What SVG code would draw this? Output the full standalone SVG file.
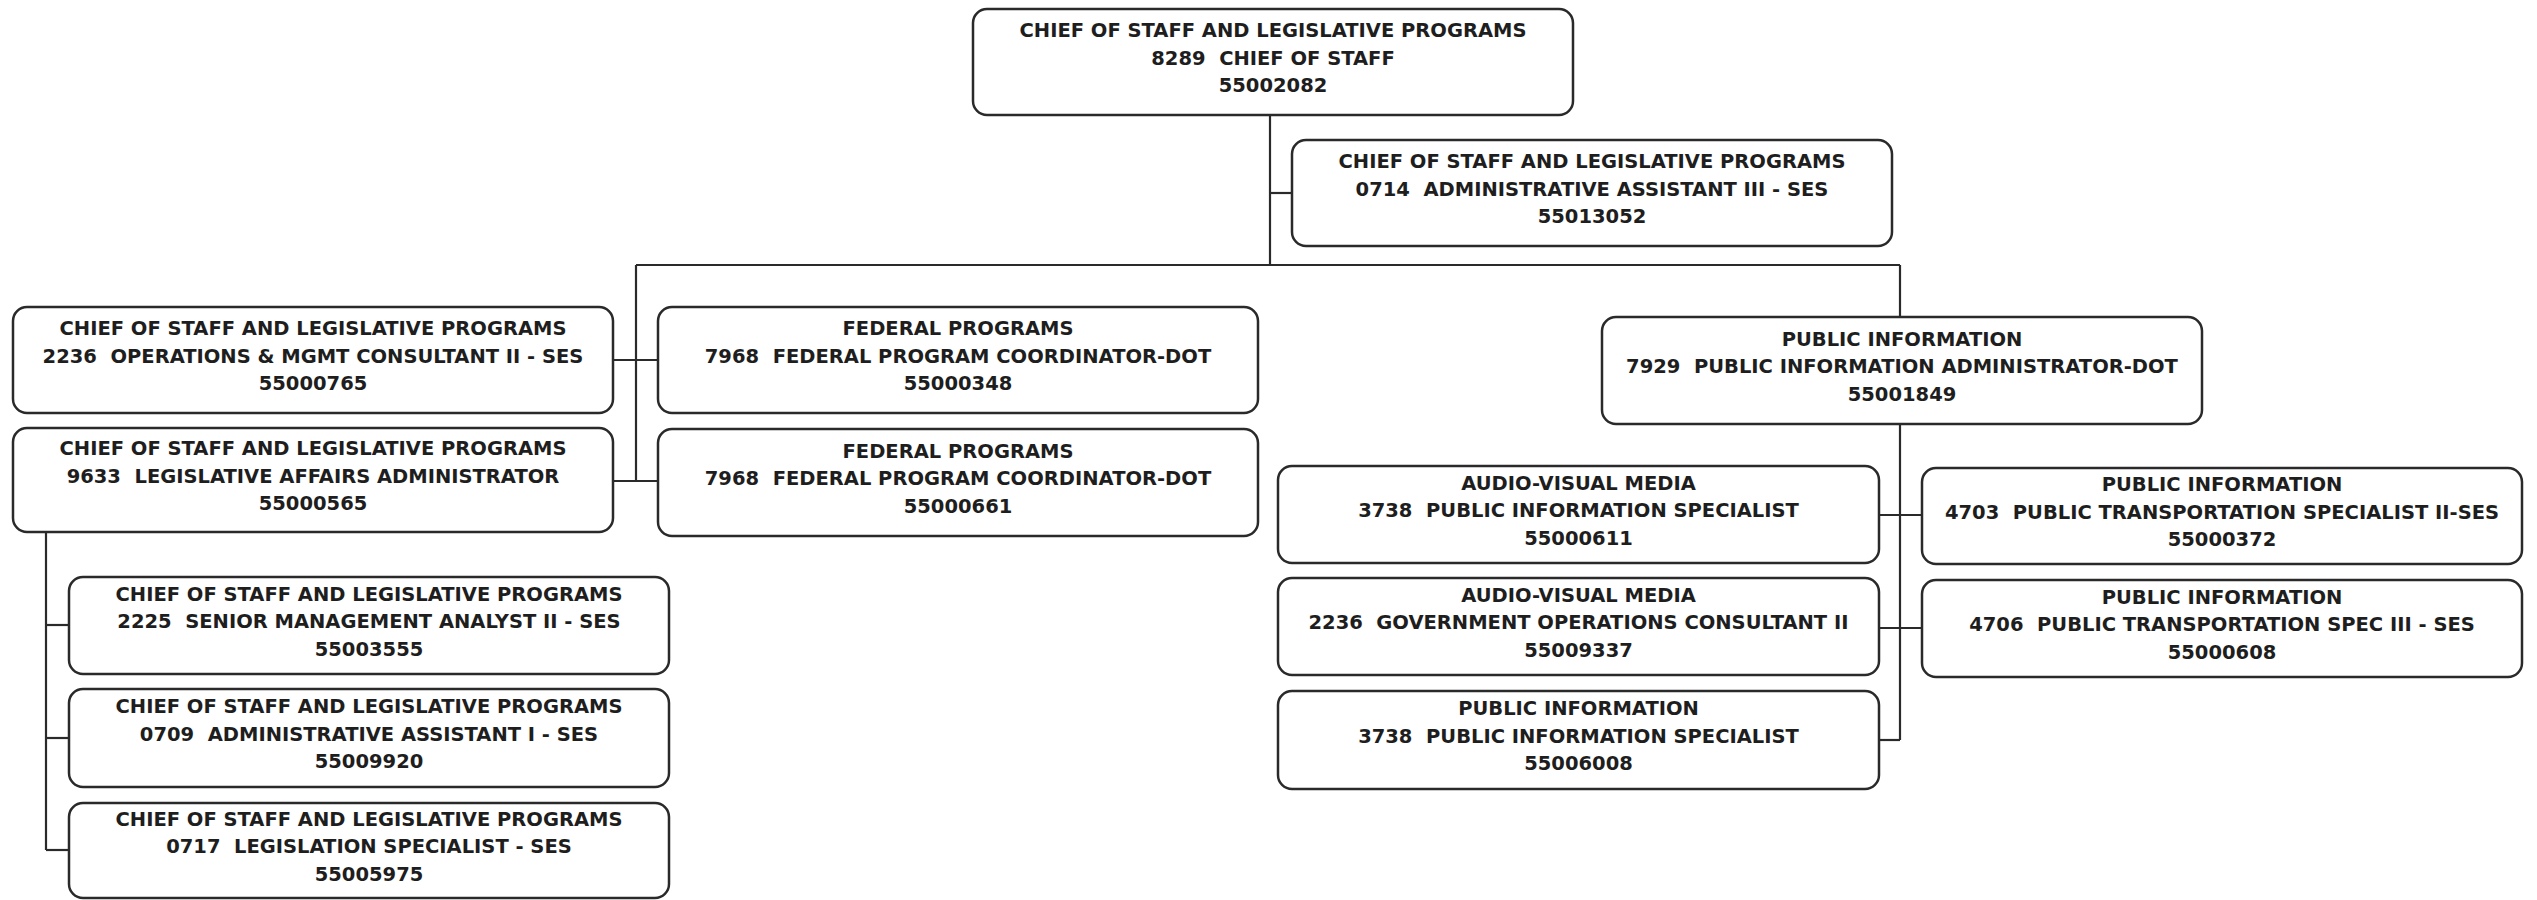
<svg xmlns="http://www.w3.org/2000/svg" width="2537" height="900" viewBox="0 0 2537 900">
  <style>
    .box { fill: #ffffff; stroke: #2a2a2a; stroke-width: 2.5; }
    .lbl { font-family: "DejaVu Sans", Verdana, sans-serif; font-weight: bold; font-size: 19.5px; fill: #1e1e1e; text-anchor: middle; white-space: pre; }
    .wire { fill: none; stroke: #2a2a2a; stroke-width: 2.2; }
  </style>
  <rect width="2537" height="900" fill="#ffffff"/>

  <g id="connectors" class="wire">
    <path d="M1270,115 V265"/>
    <path d="M1270,193 H1292"/>
    <path d="M636,265 H1900"/>
    <path d="M636,265 V481"/>
    <path d="M613,360 H658"/>
    <path d="M613,481 H658"/>
    <path d="M1900,265 V317"/>
    <path d="M1900,424 V740"/>
    <path d="M1879,515 H1922"/>
    <path d="M1879,628 H1922"/>
    <path d="M1879,740 H1900"/>
    <path d="M46,532 V850"/>
    <path d="M46,625 H69"/>
    <path d="M46,738 H69"/>
    <path d="M46,850 H69"/>
  </g>

  <g id="chief-of-staff">
    <rect class="box" x="973" y="9" width="600" height="106" rx="14"/>
    <text class="lbl" x="1273" y="37">CHIEF OF STAFF AND LEGISLATIVE PROGRAMS</text>
    <text class="lbl" x="1273" y="64.5">8289  CHIEF OF STAFF</text>
    <text class="lbl" x="1273" y="92">55002082</text>
  </g>

  <g id="admin-assistant-iii">
    <rect class="box" x="1292" y="140" width="600" height="106" rx="14"/>
    <text class="lbl" x="1592" y="168">CHIEF OF STAFF AND LEGISLATIVE PROGRAMS</text>
    <text class="lbl" x="1592" y="195.5">0714  ADMINISTRATIVE ASSISTANT III - SES</text>
    <text class="lbl" x="1592" y="223">55013052</text>
  </g>

  <g id="ops-mgmt-consultant">
    <rect class="box" x="13" y="307" width="600" height="106" rx="14"/>
    <text class="lbl" x="313" y="335">CHIEF OF STAFF AND LEGISLATIVE PROGRAMS</text>
    <text class="lbl" x="313" y="362.5">2236  OPERATIONS &amp; MGMT CONSULTANT II - SES</text>
    <text class="lbl" x="313" y="390">55000765</text>
  </g>

  <g id="legislative-affairs-admin">
    <rect class="box" x="13" y="428" width="600" height="104" rx="14"/>
    <text class="lbl" x="313" y="455">CHIEF OF STAFF AND LEGISLATIVE PROGRAMS</text>
    <text class="lbl" x="313" y="482.5">9633  LEGISLATIVE AFFAIRS ADMINISTRATOR</text>
    <text class="lbl" x="313" y="510">55000565</text>
  </g>

  <g id="federal-coordinator-1">
    <rect class="box" x="658" y="307" width="600" height="106" rx="14"/>
    <text class="lbl" x="958" y="335">FEDERAL PROGRAMS</text>
    <text class="lbl" x="958" y="362.5">7968  FEDERAL PROGRAM COORDINATOR-DOT</text>
    <text class="lbl" x="958" y="390">55000348</text>
  </g>

  <g id="federal-coordinator-2">
    <rect class="box" x="658" y="429" width="600" height="107" rx="14"/>
    <text class="lbl" x="958" y="457.5">FEDERAL PROGRAMS</text>
    <text class="lbl" x="958" y="485">7968  FEDERAL PROGRAM COORDINATOR-DOT</text>
    <text class="lbl" x="958" y="512.5">55000661</text>
  </g>

  <g id="public-info-admin">
    <rect class="box" x="1602" y="317" width="600" height="107" rx="14"/>
    <text class="lbl" x="1902" y="345.5">PUBLIC INFORMATION</text>
    <text class="lbl" x="1902" y="373">7929  PUBLIC INFORMATION ADMINISTRATOR-DOT</text>
    <text class="lbl" x="1902" y="400.5">55001849</text>
  </g>

  <g id="av-info-specialist">
    <rect class="box" x="1278" y="466" width="601" height="97" rx="14"/>
    <text class="lbl" x="1578.5" y="489.5">AUDIO-VISUAL MEDIA</text>
    <text class="lbl" x="1578.5" y="517">3738  PUBLIC INFORMATION SPECIALIST</text>
    <text class="lbl" x="1578.5" y="544.5">55000611</text>
  </g>

  <g id="av-gov-ops-consultant">
    <rect class="box" x="1278" y="578" width="601" height="97" rx="14"/>
    <text class="lbl" x="1578.5" y="601.5">AUDIO-VISUAL MEDIA</text>
    <text class="lbl" x="1578.5" y="629">2236  GOVERNMENT OPERATIONS CONSULTANT II</text>
    <text class="lbl" x="1578.5" y="656.5">55009337</text>
  </g>

  <g id="pi-info-specialist">
    <rect class="box" x="1278" y="691" width="601" height="98" rx="14"/>
    <text class="lbl" x="1578.5" y="715">PUBLIC INFORMATION</text>
    <text class="lbl" x="1578.5" y="742.5">3738  PUBLIC INFORMATION SPECIALIST</text>
    <text class="lbl" x="1578.5" y="770">55006008</text>
  </g>

  <g id="transport-specialist-ii">
    <rect class="box" x="1922" y="468" width="600" height="96" rx="14"/>
    <text class="lbl" x="2222" y="491">PUBLIC INFORMATION</text>
    <text class="lbl" x="2222" y="518.5">4703  PUBLIC TRANSPORTATION SPECIALIST II-SES</text>
    <text class="lbl" x="2222" y="546">55000372</text>
  </g>

  <g id="transport-spec-iii">
    <rect class="box" x="1922" y="580" width="600" height="97" rx="14"/>
    <text class="lbl" x="2222" y="603.5">PUBLIC INFORMATION</text>
    <text class="lbl" x="2222" y="631">4706  PUBLIC TRANSPORTATION SPEC III - SES</text>
    <text class="lbl" x="2222" y="658.5">55000608</text>
  </g>

  <g id="senior-mgmt-analyst">
    <rect class="box" x="69" y="577" width="600" height="97" rx="14"/>
    <text class="lbl" x="369" y="600.5">CHIEF OF STAFF AND LEGISLATIVE PROGRAMS</text>
    <text class="lbl" x="369" y="628">2225  SENIOR MANAGEMENT ANALYST II - SES</text>
    <text class="lbl" x="369" y="655.5">55003555</text>
  </g>

  <g id="admin-assistant-i">
    <rect class="box" x="69" y="689" width="600" height="98" rx="14"/>
    <text class="lbl" x="369" y="713">CHIEF OF STAFF AND LEGISLATIVE PROGRAMS</text>
    <text class="lbl" x="369" y="740.5">0709  ADMINISTRATIVE ASSISTANT I - SES</text>
    <text class="lbl" x="369" y="768">55009920</text>
  </g>

  <g id="legislation-specialist">
    <rect class="box" x="69" y="803" width="600" height="95" rx="14"/>
    <text class="lbl" x="369" y="825.5">CHIEF OF STAFF AND LEGISLATIVE PROGRAMS</text>
    <text class="lbl" x="369" y="853">0717  LEGISLATION SPECIALIST - SES</text>
    <text class="lbl" x="369" y="880.5">55005975</text>
  </g>
</svg>
